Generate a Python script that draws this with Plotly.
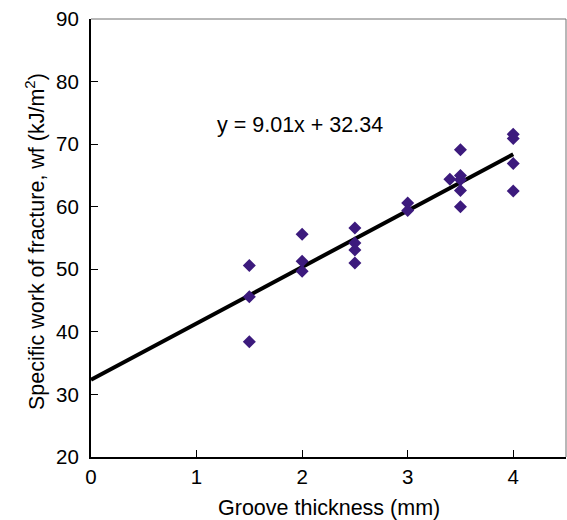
import plotly.graph_objects as go

# Data
groove_mm = [1.5, 1.5, 1.5,
             2.0, 2.0, 2.0,
             2.5, 2.5, 2.5, 2.5,
             3.0, 3.0,
             3.4,
             3.5, 3.5, 3.5, 3.5, 3.5,
             4.0, 4.0, 4.0, 4.0]
work_kj = [50.6, 45.6, 38.4,
           55.6, 51.3, 49.7,
           56.6, 54.2, 53.1, 51.0,
           60.6, 59.4,
           64.4,
           69.1, 65.0, 64.3, 62.6, 60.0,
           71.6, 70.9, 66.9, 62.5]

slope = 9.01
intercept = 32.34
trend_x = [0, 4]
trend_y = [slope * v + intercept for v in trend_x]

x_ticks = [0, 1, 2, 3, 4]
y_ticks = [20, 30, 40, 50, 60, 70, 80, 90]

FONT = "Liberation Sans, Arial, sans-serif"
FS = 20.5
FT = 21.5

fig = go.Figure()
fig.add_trace(go.Scatter(
    x=trend_x, y=trend_y, mode="lines",
    line=dict(color="black", width=4),
    showlegend=False, hoverinfo="skip"))
fig.add_trace(go.Scatter(
    x=groove_mm, y=work_kj, mode="markers",
    marker=dict(symbol="diamond", size=10, color="#3C1A7D"),
    showlegend=False))

fig.add_annotation(
    x=1.98, y=73.1, xref="x", yref="y",
    text="y = 9.01x + 32.34", showarrow=False,
    font=dict(family=FONT, size=FT, color="black"))

# axis titles
fig.add_annotation(
    x=0.5, y=-0.116, xref="paper", yref="paper", xanchor="center", yanchor="middle",
    text="Groove thickness (mm)", showarrow=False,
    font=dict(family=FONT, size=FT, color="black"))
fig.add_annotation(
    x=-0.118, y=0.493, xref="paper", yref="paper", xanchor="center", yanchor="middle",
    text="Specific work of fracture, wf (kJ/m<sup>2</sup>)", showarrow=False, textangle=-90,
    font=dict(family=FONT, size=FT, color="black"))

# gray top and right borders
fig.add_shape(type="line", xref="paper", yref="paper", x0=0, x1=1, y0=1, y1=1,
              line=dict(color="#707070", width=1))
fig.add_shape(type="line", xref="paper", yref="paper", x0=1, x1=1, y0=0, y1=1,
              line=dict(color="#707070", width=1))

fig.update_layout(
    width=567, height=520,
    margin=dict(l=91, r=1, t=19, b=63),
    paper_bgcolor="white", plot_bgcolor="white",
    font=dict(family=FONT, size=FS, color="black"),
    xaxis=dict(
        range=[0, 4.5], tickvals=x_ticks, ticks="inside", ticklen=7,
        tickcolor="black", showline=True, linecolor="black", linewidth=2,
        showgrid=False, zeroline=False, automargin=False,
        tickfont=dict(family=FONT, size=FS)),
    yaxis=dict(
        range=[20, 90], tickvals=y_ticks, ticks="inside", ticklen=7,
        tickcolor="black", showline=True, linecolor="black", linewidth=2,
        showgrid=False, zeroline=False, automargin=False,
        ticklabelstandoff=6,
        tickfont=dict(family=FONT, size=FS)),
)

fig.write_html(
    "out.html",
    config={"displayModeBar": False},
    post_script="document.body.style.margin='0';document.body.style.overflow='hidden';")
